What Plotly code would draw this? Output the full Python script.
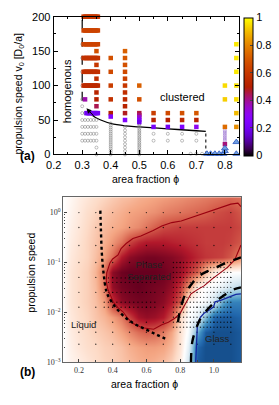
import numpy as np
import plotly.graph_objects as go
from itertools import product

W, H = 279, 405

# ================= panel (a) data =================
strip_phi = [0.305, 0.31, 0.315, 0.32, 0.325, 0.33, 0.335, 0.34, 0.345, 0.35, 0.355]
strip_v = [200, 180, 160, 140, 120, 100]
strip_val = [0.60, 0.64, 0.64, 0.58, 0.57, 0.55]
slow_strip_phi = [0.315, 0.32, 0.325, 0.33, 0.335, 0.34, 0.345, 0.35, 0.355]
slow_strip_v = 60
slow_strip_val = 0.20

col_phi = [0.31, 0.35, 0.40, 0.45, 0.50, 0.55, 0.60, 0.65, 0.70, 0.80, 0.84]
col_v = [
    [80],
    [150, 130, 110, 90, 80, 70],
    [140, 120, 100, 80, 60, 55],
    [150, 140, 130, 120, 110, 100, 90, 80, 70, 60, 50],
    [100, 80, 60, 57, 54, 50, 47],
    [60, 50, 40],
    [60, 50, 40],
    [60, 50, 40],
    [60, 50, 40],
    [100, 80, 40, 15],
    [160, 140, 120, 100, 80, 60, 40],
]
col_val = [
    [0.38],
    [0.68, 0.60, 0.56, 0.52, 0.50, 0.45],
    [0.68, 0.66, 0.62, 0.58, 0.50, 0.25],
    [0.72, 0.70, 0.68, 0.66, 0.63, 0.60, 0.57, 0.55, 0.52, 0.48, 0.25],
    [0.72, 0.68, 0.46, 0.42, 0.35, 0.25, 0.20],
    [0.62, 0.52, 0.22],
    [0.66, 0.50, 0.20],
    [0.68, 0.54, 0.25],
    [0.70, 0.52, 0.30],
    [0.95, 0.93, 0.75, 0.42],
    [0.97, 0.97, 0.97, 0.96, 0.95, 0.90, 0.82],
]

open_grid_phi = [0.30, 0.31, 0.32, 0.33, 0.34, 0.35]
open_grid_v = [50, 40, 30, 20]
open_single_phi = [0.30, 0.30, 0.30, 0.30, 0.30, 0.30, 0.30, 0.31, 0.35, 0.35, 0.68, 0.70, 0.72]
open_single_v = [160, 140, 120, 100, 80, 70, 60, 60, 10, 0, 1, 1, 1]
open_col_phi = [0.40, 0.45, 0.50, 0.55, 0.60, 0.65, 0.70]
open_col_v = [
    [45, 42, 39, 36, 33, 30, 27, 24, 21, 18, 15, 12, 9, 6, 3, 0],
    [40, 35, 30, 25, 20, 15, 10, 5, 0],
    [45, 42.5, 40, 37.5, 35, 32.5, 30, 27.5, 25, 22.5, 20, 17.5, 15, 12.5, 10, 7.5, 5, 2.5, 0],
    [30, 20],
    [30, 20],
    [30, 20],
    [30, 20],
]
purple_open_phi = [0.80, 0.80, 0.80, 0.80, 0.80, 0.80, 0.80]
purple_open_v = [35, 32.5, 30, 27.5, 25, 22.5, 20]

tri_phi = [0.737, 0.75, 0.765, 0.78, 0.795, 0.80, 0.80, 0.84, 0.84]
tri_v = [1, 1, 1, 1, 1, 5, 9, 18, 1]

hom_phi = [0.30, 0.30]
hom_v = [78, 200]
bnd_phi = [0.318, 0.33, 0.345, 0.365, 0.40, 0.45, 0.50, 0.60, 0.70, 0.733]
bnd_v = [65, 59, 54, 50, 45, 41.5, 40, 37.2, 34.4, 33.5]
jam_phi = [0.733, 0.733]
jam_v = [0, 34]

# ================= panel (b) data =================
map_phi = [0.11, 0.15, 0.2, 0.25, 0.3, 0.35, 0.4, 0.45, 0.5, 0.55, 0.6, 0.65,
           0.7, 0.75, 0.8, 0.85, 0.9, 0.95, 1.0, 1.05, 1.1, 1.16]
map_logv = [-3.0, -2.7, -2.4, -2.1, -1.8, -1.5, -1.2, -0.9, -0.6, -0.3, 0.0, 0.3]
map_val = [
    [0.50, 0.53, 0.55, 0.57, 0.59, 0.61, 0.62, 0.64, 0.66, 0.68, 0.69, 0.68, 0.66, 0.62, 0.55, 0.40, 0.08, 0.06, 0.06, 0.06, 0.06, 0.08],
    [0.50, 0.54, 0.57, 0.59, 0.60, 0.62, 0.63, 0.65, 0.68, 0.70, 0.71, 0.71, 0.70, 0.66, 0.57, 0.44, 0.10, 0.06, 0.06, 0.06, 0.06, 0.08],
    [0.50, 0.55, 0.58, 0.60, 0.62, 0.64, 0.66, 0.70, 0.74, 0.78, 0.80, 0.79, 0.76, 0.70, 0.58, 0.48, 0.25, 0.08, 0.06, 0.06, 0.06, 0.08],
    [0.50, 0.56, 0.59, 0.61, 0.64, 0.67, 0.71, 0.76, 0.84, 0.92, 0.94, 0.93, 0.90, 0.82, 0.60, 0.50, 0.45, 0.28, 0.10, 0.08, 0.08, 0.10],
    [0.51, 0.57, 0.60, 0.62, 0.65, 0.71, 0.86, 0.95, 0.97, 0.98, 0.98, 0.97, 0.95, 0.90, 0.80, 0.52, 0.50, 0.48, 0.40, 0.24, 0.16, 0.16],
    [0.51, 0.57, 0.60, 0.62, 0.66, 0.76, 0.94, 0.98, 0.99, 1.00, 0.99, 0.98, 0.97, 0.94, 0.86, 0.72, 0.54, 0.50, 0.48, 0.45, 0.40, 0.36],
    [0.51, 0.57, 0.60, 0.62, 0.67, 0.78, 0.95, 0.99, 1.00, 1.00, 1.00, 1.00, 0.99, 0.97, 0.93, 0.87, 0.80, 0.66, 0.55, 0.52, 0.50, 0.50],
    [0.50, 0.56, 0.59, 0.61, 0.65, 0.71, 0.78, 0.90, 0.95, 0.97, 0.98, 0.98, 0.97, 0.96, 0.94, 0.91, 0.88, 0.86, 0.85, 0.84, 0.81, 0.74],
    [0.50, 0.55, 0.58, 0.61, 0.64, 0.68, 0.72, 0.77, 0.84, 0.88, 0.90, 0.90, 0.90, 0.89, 0.88, 0.87, 0.86, 0.85, 0.85, 0.85, 0.84, 0.81],
    [0.50, 0.54, 0.57, 0.60, 0.63, 0.66, 0.68, 0.70, 0.72, 0.74, 0.77, 0.80, 0.83, 0.84, 0.85, 0.85, 0.85, 0.85, 0.85, 0.85, 0.85, 0.83],
    [0.50, 0.53, 0.56, 0.59, 0.61, 0.64, 0.66, 0.68, 0.70, 0.71, 0.72, 0.73, 0.75, 0.76, 0.77, 0.78, 0.79, 0.80, 0.82, 0.83, 0.84, 0.81],
    [0.50, 0.52, 0.55, 0.57, 0.59, 0.61, 0.63, 0.65, 0.66, 0.68, 0.69, 0.70, 0.71, 0.72, 0.73, 0.74, 0.75, 0.76, 0.77, 0.78, 0.79, 0.78],
]

ps_phi = [1.16, 1.142, 1.10, 1.056, 0.99, 0.921, 0.86, 0.806, 0.75, 0.691, 0.64, 0.60, 0.567,
          0.52, 0.48, 0.45, 0.432, 0.40, 0.384, 0.365, 0.362, 0.371, 0.385, 0.403, 0.43,
          0.461, 0.49, 0.518, 0.576, 0.643, 0.691, 0.73, 0.768, 0.80, 0.826, 0.864, 0.90,
          0.941, 0.99, 1.036, 1.08, 1.123, 1.16]
ps_logv = [0.12, 0.19, 0.17, 0.12, 0.05, -0.04, -0.10, -0.17, -0.20, -0.27, -0.36, -0.42, -0.47,
           -0.52, -0.62, -0.72, -0.85, -0.93, -1.01, -1.21, -1.37, -1.53, -1.66, -1.79, -1.90,
           -1.99, -2.12, -2.22, -2.31, -2.34, -2.25, -2.20, -2.12, -2.02, -1.86, -1.63, -1.55,
           -1.47, -1.33, -1.21, -1.10, -0.95, -0.65]

up_phi = [0.787, 0.80, 0.835, 0.875, 0.912, 0.96, 1.007, 1.08, 1.16]
up_logv = [-2.20, -1.95, -1.60, -1.40, -1.27, -1.18, -1.11, -1.00, -0.90]
lo_phi = [0.864, 0.866, 0.873, 0.892, 0.921, 0.96, 1.007, 1.06, 1.104, 1.16]
lo_logv = [-3.0, -2.80, -2.57, -2.35, -2.12, -1.95, -1.79, -1.66, -1.56, -1.50]
gl_phi = [0.892, 0.895, 0.902, 0.92, 0.941, 0.975, 0.998, 1.007, 1.04, 1.085, 1.13, 1.16]
gl_logv = [-3.0, -2.60, -2.25, -2.10, -2.02, -1.95, -1.89, -1.79, -1.76, -1.70, -1.64, -1.63]
dt_phi = [0.327, 0.33, 0.336, 0.346, 0.365, 0.394, 0.432, 0.48, 0.538, 0.595, 0.643, 0.68, 0.72]
dt_logv = [0.04, -0.30, -0.82, -1.21, -1.60, -1.79, -1.96, -2.12, -2.25, -2.34, -2.42, -2.48, -2.54]

dot_phi_sparse = [0.2, 0.3, 0.4, 0.5, 0.6, 0.7, 0.8, 0.9, 1.0, 1.1]
dot_logv_sparse = [0.0, -0.3, -0.66, -1.0, -1.3, -1.6, -1.9, -2.2, -2.4, -2.64]
dot_phi_mid = [0.35, 0.375, 0.4, 0.425, 0.45, 0.475, 0.5, 0.525, 0.55, 0.575, 0.6, 0.625, 0.65]
dot_logv_mid = [-1.31, -1.4, -1.6, -1.8, -1.9]
dot_phi_dense = [0.76, 0.78, 0.80, 0.82, 0.84, 0.86, 0.88, 0.90, 0.92, 0.94, 0.96, 0.98,
                 1.0, 1.02, 1.04, 1.06, 1.08, 1.10]
dot_logv_dense = [-1.0, -1.1, -1.2, -1.3, -1.4, -1.5, -1.6, -1.7, -1.8, -1.9, -2.0, -2.1, -2.2, -2.3]

# ================= styling helpers =================
def gnuplot_rgb(t):
    r = np.sqrt(t)
    g = t ** 3
    b = max(0.0, np.sin(2 * np.pi * t))
    return "rgb(%d,%d,%d)" % (round(255 * r), round(255 * g), round(255 * b))

gp_scale = [[i / 20, gnuplot_rgb(i / 20)] for i in range(21)]
rdbu_r = [[0.0, '#053061'], [0.1, '#2166ac'], [0.2, '#4393c3'], [0.3, '#92c5de'],
          [0.4, '#d1e5f0'], [0.5, '#ffffff'], [0.6, '#fddbc7'], [0.7, '#f4a582'],
          [0.8, '#d6604d'], [0.9, '#b2182b'], [1.0, '#67001f']]

sx, sy, sc = [], [], []
for v, c in zip(strip_v, strip_val):
    for p in strip_phi:
        sx.append(p); sy.append(v); sc.append(c)
for p in slow_strip_phi:
    sx.append(p); sy.append(slow_strip_v); sc.append(slow_strip_val)
for p, vs, cs in zip(col_phi, col_v, col_val):
    for v, c in zip(vs, cs):
        sx.append(p); sy.append(v); sc.append(c)

cx, cy = [], []
for p, v in product(open_grid_phi, open_grid_v):
    cx.append(p); cy.append(v)
cx += open_single_phi; cy += open_single_v
for p, vs in zip(open_col_phi, open_col_v):
    for v in vs:
        cx.append(p); cy.append(v)

fig = go.Figure()

# ---- panel (a) traces ----
fig.add_trace(go.Scatter(x=hom_phi, y=hom_v, mode='lines',
                         line=dict(color='black', width=1.2, dash='dash'),
                         xaxis='x', yaxis='y', hoverinfo='skip'))
fig.add_trace(go.Scatter(x=bnd_phi, y=bnd_v, mode='lines',
                         line=dict(color='black', width=1.3, shape='spline'),
                         xaxis='x', yaxis='y', hoverinfo='skip'))
fig.add_trace(go.Scatter(x=jam_phi, y=jam_v, mode='lines',
                         line=dict(color='#333', width=1.3, dash='dot'),
                         xaxis='x', yaxis='y', hoverinfo='skip'))
fig.add_trace(go.Scatter(x=cx, y=cy, mode='markers',
                         marker=dict(symbol='circle-open', size=3, color='#7a7a7a',
                                     line=dict(width=0.5)),
                         xaxis='x', yaxis='y', cliponaxis=False))
fig.add_trace(go.Scatter(x=purple_open_phi, y=purple_open_v, mode='markers',
                         marker=dict(symbol='circle-open', size=3, color='#8a5cc8',
                                     line=dict(width=0.5)),
                         xaxis='x', yaxis='y'))
fig.add_trace(go.Scatter(x=sx, y=sy, mode='markers',
                         marker=dict(symbol='square', size=4.5, color=sc,
                                     colorscale=gp_scale, cmin=0, cmax=1,
                                     line=dict(width=0),
                                     colorbar=dict(x=243 / W, xanchor='left', y=1 - 83 / H,
                                                   yanchor='middle', len=142 / H, lenmode='fraction',
                                                   thickness=9, outlinewidth=1, outlinecolor='black',
                                                   tickvals=[0, 0.2, 0.4, 0.6, 0.8, 1.0],
                                                   ticktext=['0', '0.2', '0.4', '0.6', '0.8', '1'],
                                                   ticks='inside', ticklen=3, tickcolor='#444',
                                                   tickfont=dict(size=11, family='Liberation Sans'),
                                                   xpad=0, ypad=0)),
                         xaxis='x', yaxis='y', cliponaxis=False))
fig.add_trace(go.Scatter(x=tri_phi, y=tri_v, mode='markers',
                         marker=dict(symbol='triangle-up', size=6, color='#6f9fe0',
                                     line=dict(color='#2a55c0', width=0.8)),
                         xaxis='x', yaxis='y', cliponaxis=False))

# ---- panel (b) traces ----
fig.add_trace(go.Heatmap(x=map_phi, y=map_logv, z=map_val, zsmooth='best',
                         colorscale=rdbu_r, zmin=0, zmax=1, showscale=False,
                         xaxis='x2', yaxis='y2', hoverinfo='skip'))

dpx, dpy = [], []
for p, v in product(dot_phi_sparse, dot_logv_sparse):
    dpx.append(p); dpy.append(v)
for p, v in product(dot_phi_mid, dot_logv_mid):
    dpx.append(p); dpy.append(v)
for p, v in product(dot_phi_dense, dot_logv_dense):
    dpx.append(p); dpy.append(v)
fig.add_trace(go.Scatter(x=dpx, y=dpy, mode='markers',
                         marker=dict(size=1.4, color='black', opacity=0.75),
                         xaxis='x2', yaxis='y2', hoverinfo='skip'))

fig.add_trace(go.Scatter(x=ps_phi, y=ps_logv, mode='lines',
                         line=dict(color='#9a0010', width=1.1),
                         xaxis='x2', yaxis='y2', hoverinfo='skip'))
fig.add_trace(go.Scatter(x=gl_phi, y=gl_logv, mode='lines',
                         line=dict(color='#1428a0', width=1.3),
                         xaxis='x2', yaxis='y2', hoverinfo='skip'))
fig.add_trace(go.Scatter(x=up_phi, y=up_logv, mode='lines',
                         line=dict(color='black', width=2.4, dash='dash', shape='spline'),
                         xaxis='x2', yaxis='y2', hoverinfo='skip'))
fig.add_trace(go.Scatter(x=lo_phi, y=lo_logv, mode='lines',
                         line=dict(color='black', width=2.4, dash='dash', shape='spline'),
                         xaxis='x2', yaxis='y2', hoverinfo='skip'))
fig.add_trace(go.Scatter(x=dt_phi, y=dt_logv, mode='lines',
                         line=dict(color='black', width=2.4, dash='dot', shape='spline'),
                         xaxis='x2', yaxis='y2', hoverinfo='skip'))

# ================= layout =================
axis_a = dict(showline=True, linecolor='black', linewidth=1, mirror='allticks',
              ticks='inside', ticklen=4, tickcolor='black', showgrid=False, zeroline=False,
              tickfont=dict(size=11, family='Liberation Sans', color='black'))
minor_log = [np.log10(m) + d for d in (-3, -2, -1) for m in range(2, 10)] + [np.log10(2)]
serif = dict(size=8, family='Liberation Serif', color='#333')

fig.update_layout(
    width=W, height=H, margin=dict(l=0, r=0, t=0, b=0),
    paper_bgcolor='white', plot_bgcolor='white', showlegend=False,
    font=dict(family='Liberation Sans', size=11, color='black'),
    xaxis=dict(domain=[47 / W, 238 / W], anchor='y', range=[0.2, 0.85],
               tick0=0.2, dtick=0.1,
               minor=dict(tick0=0.2, dtick=0.05, ticks='inside', ticklen=2.5, tickcolor='black'),
               **axis_a),
    yaxis=dict(domain=[1 - 153 / H, 1 - 11 / H], anchor='x', range=[0, 200],
               tick0=0, dtick=50,
               minor=dict(tick0=0, dtick=25, ticks='inside', ticklen=2.5, tickcolor='black'),
               **axis_a),
    xaxis2=dict(domain=[57 / W, 240 / W], anchor='y2', range=[0.108, 1.161],
                tickvals=[0.2, 0.4, 0.6, 0.8, 1.0], ticktext=['0.2', '0.4', '0.6', '0.8', '1.0'],
                showline=True, linecolor='#666', linewidth=1.3, mirror=True,
                ticks='inside', ticklen=3, tickcolor='#444', showgrid=False, zeroline=False,
                minor=dict(tickvals=[0.1, 0.3, 0.5, 0.7, 0.9, 1.1], ticks='inside', ticklen=2,
                           tickcolor='#444'),
                tickfont=serif),
    yaxis2=dict(domain=[1 - 367 / H, 1 - 197 / H], anchor='x2', range=[-3, 0.31],
                tickvals=[-3, -2, -1, 0],
                ticktext=['10<sup>−3</sup>', '10<sup>−2</sup>', '10<sup>−1</sup>', '10<sup>0</sup>'],
                showline=True, linecolor='#666', linewidth=1.3, mirror=True,
                ticks='inside', ticklen=3, tickcolor='#444', showgrid=False, zeroline=False,
                minor=dict(tickvals=minor_log, ticks='inside', ticklen=1.5, tickcolor='#444'),
                tickfont=serif),
)

def label(text, x, y, xref='paper', yref='paper', size=10.5, angle=0, color='black'):
    return dict(text=text, x=x, y=y, xref=xref, yref=yref, xanchor='center', yanchor='middle',
                showarrow=False, textangle=angle, font=dict(size=size, color=color))

ann = [
    label('<b>(a)</b>', 20.5 / W, 1 - 155 / H, size=12),
    label('<b>(b)</b>', 20.5 / W, 1 - 377 / H, size=12),
    label('area fraction ϕ', 142 / W, 1 - 178 / H),
    label('area fraction ϕ', 141 / W, 1 - 390 / H),
    label('propulsion speed v<sub>0</sub> [D<sub>0</sub>/a]', 11.5 / W, 1 - 90 / H, angle=-90),
    label('propulsion speed', 23.5 / W, 1 - 275 / H, angle=-90),
    label('homogenous', 0.247, 92, 'x', 'y', size=11, angle=-90),
    label('clustered', 0.65, 84, 'x', 'y', size=11),
    label('Phase<br>Separated', 0.615, -1.16, 'x2', 'y2', size=9.5, color='#222'),
    label('Liquid', 0.226, -2.24, 'x2', 'y2', size=9.5, color='#222'),
    label('Glass', 1.023, -2.53, 'x2', 'y2', size=9.5, color='#222'),
]
ann.append(dict(text='', x=bnd_phi[0] - 0.003, y=bnd_v[0] + 2, ax=bnd_phi[2], ay=bnd_v[2],
                xref='x', yref='y', axref='x', ayref='y', showarrow=True,
                arrowhead=2, arrowsize=1, arrowwidth=1, arrowcolor='black'))
fig.update_layout(annotations=ann)

fig.write_html("out.html", config={'displayModeBar': False},
               post_script="document.body.style.margin='0';document.body.style.overflow='hidden';")
